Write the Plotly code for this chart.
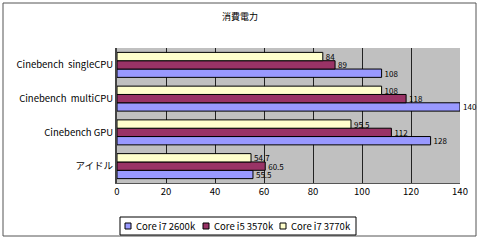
import plotly.graph_objects as go

categories = ["アイドル", "Cinebench GPU", "Cinebench  multiCPU", "Cinebench  singleCPU"]
series_names = ["Core i7 2600k", "Core i5 3570k", "Core i7 3770k"]
v_2600k = [55.5, 128, 140, 108]
v_3570k = [60.5, 112, 118, 89]
v_3770k = [54.7, 95.5, 108, 84]
colors = ["#9999ff", "#993366", "#ffffcc"]
x_ticks = [0, 20, 40, 60, 80, 100, 120, 140]

font = "Noto Sans CJK JP, DejaVu Sans, sans-serif"
fig = go.Figure()
for name, vals, c in zip(series_names, [v_2600k, v_3570k, v_3770k], colors):
    fig.add_trace(go.Bar(
        y=categories, x=vals, name=name, orientation="h",
        marker=dict(color=c, line=dict(color="black", width=1)),
        text=[f"{v:g}" for v in vals], textposition="outside",
        constraintext="none",
        textfont=dict(size=8, color="black", family=font),
        cliponaxis=False, showlegend=False,
    ))

L, R, T, B = 117, 20, 48, 57
W, H = 480, 240
pw, ph = W - L - R, H - T - B

def px(x):
    return (x - L) / pw

def py(y):
    return (H - B - y) / ph

shapes = [
    dict(type="rect", xref="paper", yref="paper", x0=px(3), x1=px(476),
         y0=py(236), y1=py(3), line=dict(color="#555555", width=1), layer="below"),
    dict(type="rect", xref="paper", yref="paper", x0=px(120), x1=px(356),
         y0=py(235), y1=py(217), line=dict(color="black", width=1), fillcolor="white"),
]
annotations = []
legend_x = [125, 203, 280]
for lx, name, c in zip(legend_x, series_names, colors):
    shapes.append(dict(type="rect", xref="paper", yref="paper", x0=px(lx), x1=px(lx + 6),
                       y0=py(229), y1=py(223), line=dict(color="black", width=1), fillcolor=c))
    annotations.append(dict(text=name, xref="paper", yref="paper", x=px(lx + 9), y=py(226),
                            xanchor="left", yanchor="middle", showarrow=False,
                            font=dict(size=9.5, family=font, color="black")))

fig.update_layout(
    width=W, height=H,
    margin=dict(l=L, r=R, t=T, b=B),
    paper_bgcolor="white",
    plot_bgcolor="#c0c0c0",
    barmode="group", bargap=0.26, bargroupgap=0.0,
    title=dict(text="消費電力", x=0.5, xanchor="center", y=1 - 17 / H, yanchor="middle",
               font=dict(size=9, color="black", family=font)),
    font=dict(family=font, size=9, color="black"),
    xaxis=dict(range=[0, 140], tickvals=x_ticks, showgrid=True, gridcolor="#222222",
               gridwidth=1, zeroline=False, showline=True, linecolor="#555555",
               ticks="", tickfont=dict(size=9.5, family=font)),
    yaxis=dict(categoryorder="array", categoryarray=categories, showline=True,
               linecolor="#444444", linewidth=2, ticks="", tickfont=dict(size=9.5, family=font)),
    shapes=shapes,
    annotations=annotations,
)
fig.write_html("out.html")
